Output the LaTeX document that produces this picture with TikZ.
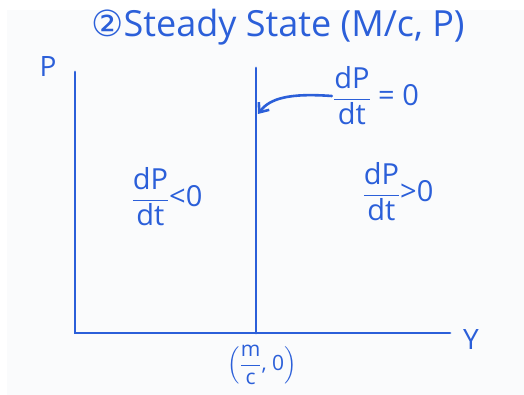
\documentclass[tikz,border=0pt]{standalone}
\usepackage{fontspec}
\setmainfont{Open Sans}
\newfontfamily\dejavu{DejaVu Sans}
\usepackage{amsmath}
\usetikzlibrary{arrows.meta}
\definecolor{ink}{HTML}{2B5FD9}
\definecolor{paper}{HTML}{FAFBFC}
\newcommand{\dPdt}{\dfrac{\mbox{dP}}{\mbox{dt}}}
\begin{document}
\begin{tikzpicture}[x=1pt,y=-1pt,
  axis/.style={draw=ink,line width=2.8pt,line cap=round},
  lbl/.style={text=ink,font=\fontsize{28}{32}\selectfont,inner sep=1pt},
  frac/.style={text=ink,font=\fontsize{29}{34}\selectfont,inner sep=1pt},
  ttl/.style={text=ink,font=\fontsize{36}{40}\selectfont,inner sep=1pt}]
\useasboundingbox (0,0) rectangle (524,395);
\fill[white] (0,0) rectangle (524,395);
\fill[paper] (7,10) rectangle (524,395);
% coordinates
\coordinate (O) at (75,333);
\coordinate (Ptop) at (75,72);
\coordinate (Xend) at (450,333);
\coordinate (Mtop) at (256,68);
\coordinate (Mbot) at (256,333);
\coordinate (tip) at (258,114);
% axes
\draw[axis] (Ptop) -- (O) -- (Xend);
\draw[axis] (Mtop) -- (Mbot);
% title
\node[ttl] (title) at (278,27) {{\dejavu ②}Steady State (M/c, P)};
% axis labels
\node[lbl] (P) at (48,67) {P};
\node[lbl] (Y) at (471,340) {Y};
\node[lbl,font=\fontsize{21}{25}\selectfont] (mc) at (262,365) {$\color{ink}\left(\dfrac{\mbox{m}}{\mbox{c}}\mbox{, 0}\right)$};
% region labels
\node[frac] (lt) at (167,197) {$\color{ink}\dPdt\mbox{<0}$};
\node[frac] (gt) at (398,192) {$\color{ink}\dPdt\mbox{>0}$};
\node[frac] (eq) at (376,96) {$\color{ink}\dPdt\mbox{ = 0}$};
% arrow
\draw[ink,line width=2.6pt,line cap=round,-{Straight Barb[length=8pt,width=13pt]}]
  (eq.west) .. controls (290,93) and (270,98) .. (tip);
\end{tikzpicture}
\end{document}
